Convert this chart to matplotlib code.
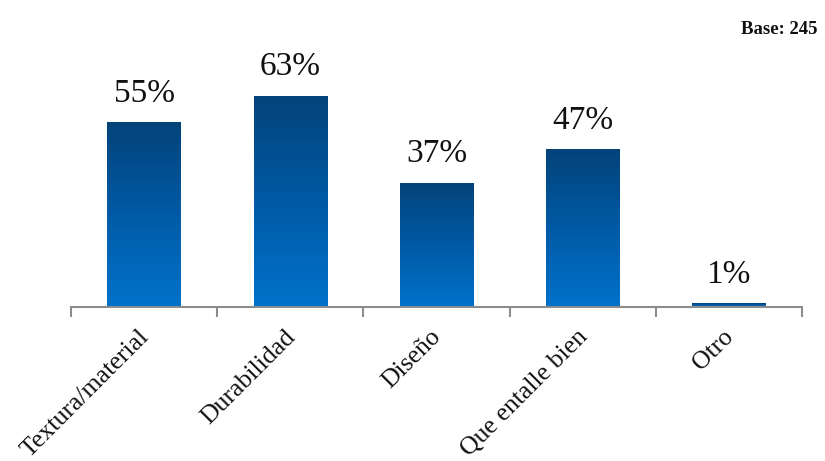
import numpy as np
import matplotlib.pyplot as plt
from matplotlib.colors import LinearSegmentedColormap

plt.rcParams['font.family'] = ['Liberation Serif', 'DejaVu Serif']

categories = ['Textura/material', 'Durabilidad', 'Diseño', 'Que entalle bien', 'Otro']
values = [55, 63, 37, 47, 1]
base_text = 'Base: 245'

# vertical gradient: light blue at the bottom, navy at the top
grad_cmap = LinearSegmentedColormap.from_list('bar_grad', ['#0072CB', '#005AA5', '#04437A'])

fig = plt.figure(figsize=(8.25, 4.61), dpi=100)
ax = fig.add_axes([0.086, 0.334, 0.886, 0.508])

x = np.arange(len(categories))
width = 0.5
bars = ax.bar(x, values, width=width, color='none', edgecolor='none')

gradient = np.linspace(0, 1, 256).reshape(-1, 1)
for bar in bars:
    x0, w, h = bar.get_x(), bar.get_width(), bar.get_height()
    ax.imshow(gradient, cmap=grad_cmap, origin='lower', aspect='auto',
              extent=[x0, x0 + w, 0, h], zorder=2)

for xi, v in zip(x, values):
    ax.annotate(f'{v}%', (xi, v), xytext=(0, 10), textcoords='offset points',
                ha='center', va='bottom', fontsize=24, color='#111111')

ax.set_xlim(-0.5, len(categories) - 0.5)
ax.set_ylim(0, 70)

for side in ['top', 'right', 'left']:
    ax.spines[side].set_visible(False)
ax.spines['bottom'].set_color('#8c8c8c')
ax.spines['bottom'].set_linewidth(1.5)
ax.set_yticks([])

ax.set_xticks(np.arange(-0.5, len(categories), 1.0))
ax.set_xticklabels([])
ax.tick_params(axis='x', direction='out', length=7, width=1.5, color='#8c8c8c')

for xi, label in zip(x, categories):
    ax.annotate(label, (xi, 0), xytext=(-4.5, -13.5), textcoords='offset points',
                ha='right', va='top', rotation=45, rotation_mode='anchor',
                fontsize=18.5, color='#111111', annotation_clip=False)

fig.text(0.991, 0.935, base_text, ha='right', va='center', fontsize=13.5,
         fontweight='bold', color='#111111')

fig.savefig('out.png', dpi=100)
